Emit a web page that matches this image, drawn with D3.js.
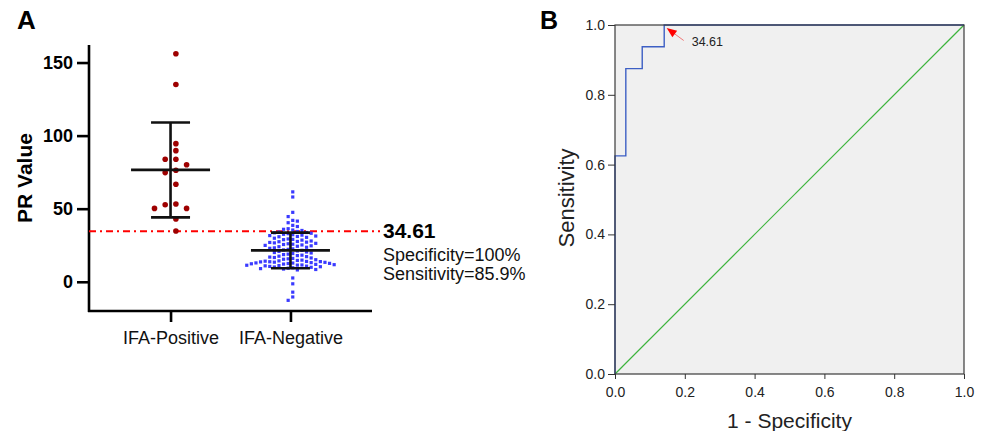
<!DOCTYPE html>
<html>
<head>
<meta charset="utf-8">
<script src="https://cdnjs.cloudflare.com/ajax/libs/d3/7.8.5/d3.min.js"></script>
<style>
  body { margin: 0; background: #fff; }
  svg text { font-family: "Liberation Sans", Arial, sans-serif; }
</style>
</head>
<body>
<svg id="fig" width="984" height="431"></svg>
<script>
// panel A data
var categories = ["IFA-Positive", "IFA-Negative"];
var ifa_positive = [156, 135, 94.5, 89.7, 83.8, 83.8, 80.1, 76.3, 74.7, 66.7, 53.2, 52.7, 50.2, 50.2, 43, 34.7];
var ifa_negative = [
  61.5, 58.0, 47.5, 44.6, 42.0, 41.5, 40.4, 38.6, 37.8,
  36.3, 35.9, 35.4, 35.1,
  34.4, 34.0, 33.7, 33.5, 33.2, 32.9,
  32.5, 32.2, 31.9, 31.6, 31.3, 31.0, 30.8,
  30.4, 29.8, 29.3, 29.0, 28.8,
  28.5, 27.9, 27.6, 27.4, 27.1, 26.9, 26.6,
  26.3, 26.0, 25.7, 25.5, 25.2, 24.9, 24.6,
  24.3, 24.0, 23.6, 23.2, 22.9, 22.5,
  22.2, 21.8, 21.5, 21.1, 20.8,
  20.4, 20.0, 19.7, 19.3, 18.9, 18.6,
  18.2, 17.9, 17.5, 17.2, 16.9, 16.6, 16.3,
  16.0, 15.7, 15.4, 15.1, 14.8, 14.6, 14.3, 14.1,
  13.9, 13.8, 13.7, 13.6, 13.4, 13.3, 13.1, 12.9, 12.8, 12.6, 12.5, 12.3, 12.1, 11.9,
  11.7, 11.5, 11.4, 11.3, 11.1, 10.9, 10.7, 10.5, 10.3, 10.1,
  9.9, 9.6, 9.3, 9.0, 8.7, 8.4, 8.1,
  2.6, -1.4, -7.1, -10.4, -12.7
];
var y_ticks = [0, 50, 100, 150];
var cutoff = 34.61;
var cutoff_lines = ["Specificity=100%", "Sensitivity=85.9%"];

// panel B data (ROC)
var roc_fpr = [0, 0, 0.031, 0.031, 0.078, 0.078, 0.141, 0.141, 1];
var roc_tpr = [0, 0.625, 0.625, 0.875, 0.875, 0.9375, 0.9375, 1, 1];
var roc_ticks = [0, 0.2, 0.4, 0.6, 0.8, 1.0];
var cut_point = {fpr: 0.141, tpr: 1, label: "34.61"};

var svg = d3.select("#fig");

// ---------- Panel A ----------
var yA = d3.scaleLinear().domain([-20, 162]).range([311, 45]);
var xA = d3.scalePoint().domain(categories).range([89, 372]).padding(0.68);

svg.append("text").attr("x", 17).attr("y", 29)
  .attr("font-size", 26).attr("font-weight", "bold").text("A");

var gA = svg.append("g");

// y axis
var yAxisA = d3.axisLeft(yA).tickValues(y_ticks).tickSize(12).tickPadding(4);
gA.append("g").attr("transform", "translate(89,0)").call(yAxisA)
  .call(function(g){
    g.select(".domain").attr("d", "M0," + 45 + "V" + 312).attr("stroke", "#000").attr("stroke-width", 2.6);
    g.selectAll(".tick line").attr("stroke", "#000").attr("stroke-width", 2.6);
    g.selectAll(".tick text").attr("font-size", 18).attr("font-weight", "bold")
      .attr("fill", "#000").attr("font-family", "Liberation Sans, Arial, sans-serif");
  });

// x axis
var xAxisA = d3.axisBottom(xA).tickSize(11).tickPadding(9);
gA.append("g").attr("transform", "translate(0,311)").call(xAxisA)
  .call(function(g){
    g.select(".domain").attr("d", "M88,0H372").attr("stroke", "#000").attr("stroke-width", 2.6);
    g.selectAll(".tick line").attr("stroke", "#000").attr("stroke-width", 2.6);
    g.selectAll(".tick text").attr("font-size", 18).attr("fill", "#111")
      .attr("font-family", "Liberation Sans, Arial, sans-serif");
  });

gA.append("text")
  .attr("transform", "translate(32,178)rotate(-90)")
  .attr("text-anchor", "middle")
  .attr("font-size", 21).attr("font-weight", "bold")
  .text("PR Value");

// beeswarm layout: columns at half steps, each column needs a vertical gap
function swarm(values, step, gap) {
  var placed = [];
  return values.slice().sort(d3.descending).map(function(v) {
    var py = yA(v);
    for (var k = 0; k < 200; k++) {
      var off = (k % 2 == 0 ? 1 : -1) * (Math.floor(k / 2) + 0.5) * step;
      var hit = placed.some(function(p){ return p.off == off && Math.abs(p.py - py) < gap; });
      if (!hit) { placed.push({off: off, py: py}); return {value: v, off: off}; }
    }
  });
}

// cutoff line
gA.append("line")
  .attr("x1", 89).attr("x2", 380)
  .attr("y1", yA(cutoff)).attr("y2", yA(cutoff))
  .attr("stroke", "#ff0000").attr("stroke-width", 2)
  .attr("stroke-dasharray", "7,4,2,4");

// positive dots
var posX = xA(categories[0]);
gA.selectAll(".pos").data(swarm(ifa_positive, 10.7, 7)).enter()
  .append("circle").attr("class", "pos")
  .attr("cx", function(d){ return posX + d.off; })
  .attr("cy", function(d){ return yA(d.value); })
  .attr("r", 2.8)
  .attr("fill", "#9e0000");

// negative squares
var negX = xA(categories[1]);
gA.selectAll(".neg").data(swarm(ifa_negative, 4.6, 4.6)).enter()
  .append("rect").attr("class", "neg")
  .attr("x", function(d){ return negX + d.off - 1.6; })
  .attr("y", function(d){ return yA(d.value) - 1.6; })
  .attr("width", 3.2).attr("height", 3.2)
  .attr("fill", "#3a3aff");

// mean +/- SD bars
function errorBar(values, cx) {
  var m = d3.mean(values), sd = d3.deviation(values);
  var g = gA.append("g").attr("stroke", "#111").attr("stroke-width", 2.6);
  g.append("line").attr("x1", cx).attr("x2", cx).attr("y1", yA(m + sd)).attr("y2", yA(m - sd));
  g.append("line").attr("x1", cx - 19.5).attr("x2", cx + 19.5).attr("y1", yA(m + sd)).attr("y2", yA(m + sd));
  g.append("line").attr("x1", cx - 19.5).attr("x2", cx + 19.5).attr("y1", yA(m - sd)).attr("y2", yA(m - sd));
  g.append("line").attr("x1", cx - 39.5).attr("x2", cx + 39.5).attr("y1", yA(m)).attr("y2", yA(m));
}
errorBar(ifa_positive, posX);
errorBar(ifa_negative, negX);

gA.append("text").attr("x", 383).attr("y", 238)
  .attr("font-size", 21).attr("font-weight", "bold").text(cutoff);
gA.selectAll(".cut-note").data(cutoff_lines).enter()
  .append("text").attr("class", "cut-note")
  .attr("x", 383).attr("y", function(d, i){ return 261 + i * 19; })
  .attr("font-size", 18).attr("fill", "#111")
  .text(function(d){ return d; });

// ---------- Panel B ----------
var xB = d3.scaleLinear().domain([0, 1]).range([615, 964]);
var yB = d3.scaleLinear().domain([0, 1]).range([374, 25]);

svg.append("text").attr("x", 540).attr("y", 29)
  .attr("font-size", 25).attr("font-weight", "bold").text("B");

var gB = svg.append("g");

gB.append("rect")
  .attr("x", xB(0)).attr("y", yB(1))
  .attr("width", xB(1) - xB(0)).attr("height", yB(0) - yB(1))
  .attr("fill", "#f0f0f0");

gB.append("line")
  .attr("x1", xB(0)).attr("y1", yB(0)).attr("x2", xB(1)).attr("y2", yB(1))
  .attr("stroke", "#3cb43c").attr("stroke-width", 1.2);

var rocLine = d3.line()
  .x(function(d){ return xB(d[0]); })
  .y(function(d){ return yB(d[1]); });

gB.append("path")
  .datum(d3.zip(roc_fpr, roc_tpr))
  .attr("d", rocLine)
  .attr("fill", "none")
  .attr("stroke", "#3d5fc4").attr("stroke-width", 1.4);

// frame on top
gB.append("rect")
  .attr("x", xB(0)).attr("y", yB(1))
  .attr("width", xB(1) - xB(0)).attr("height", yB(0) - yB(1))
  .attr("fill", "none").attr("stroke", "#3a3a3a").attr("stroke-width", 1.2);

var yAxisB = d3.axisLeft(yB).tickValues(roc_ticks).tickFormat(d3.format(".1f")).tickSize(7).tickPadding(3);
gB.append("g").attr("transform", "translate(615,0)").call(yAxisB)
  .call(function(g){
    g.select(".domain").remove();
    g.selectAll(".tick line").attr("stroke", "#333");
    g.selectAll(".tick text").attr("font-size", 14).attr("fill", "#222")
      .attr("font-family", "Liberation Sans, Arial, sans-serif");
  });

var xAxisB = d3.axisBottom(xB).tickValues(roc_ticks).tickFormat(d3.format(".1f")).tickSize(5).tickPadding(8);
gB.append("g").attr("transform", "translate(0,374)").call(xAxisB)
  .call(function(g){
    g.select(".domain").remove();
    g.selectAll(".tick line").attr("stroke", "#333");
    g.selectAll(".tick text").attr("font-size", 14).attr("fill", "#222")
      .attr("font-family", "Liberation Sans, Arial, sans-serif");
  });

gB.append("text")
  .attr("transform", "translate(574,198)rotate(-90)")
  .attr("text-anchor", "middle")
  .attr("font-size", 22).attr("fill", "#222")
  .text("Sensitivity");

gB.append("text")
  .attr("x", (xB(0) + xB(1)) / 2).attr("y", 428)
  .attr("text-anchor", "middle")
  .attr("font-size", 21).attr("fill", "#222")
  .text("1 - Specificity");

// arrow to the cutoff point
var tipX = xB(cut_point.fpr) + 2.5, tipY = yB(cut_point.tpr) + 3;
var tailX = tipX + 17, tailY = tipY + 12.5;
var len = Math.hypot(tailX - tipX, tailY - tipY);
var ux = (tailX - tipX) / len, uy = (tailY - tipY) / len;
gB.append("line")
  .attr("x1", tipX + ux * 8).attr("y1", tipY + uy * 8)
  .attr("x2", tailX).attr("y2", tailY)
  .attr("stroke", "#f07878").attr("stroke-width", 1);
gB.append("path")
  .attr("d", "M" + tipX + "," + tipY +
    "L" + (tipX + ux * 10 - uy * 4) + "," + (tipY + uy * 10 + ux * 4) +
    "L" + (tipX + ux * 10 + uy * 4) + "," + (tipY + uy * 10 - ux * 4) + "Z")
  .attr("fill", "#ff0000");
gB.append("text")
  .attr("x", tailX + 8).attr("y", tailY + 5)
  .attr("font-size", 12.5).attr("fill", "#222")
  .text(cut_point.label);
</script>
</body>
</html>
